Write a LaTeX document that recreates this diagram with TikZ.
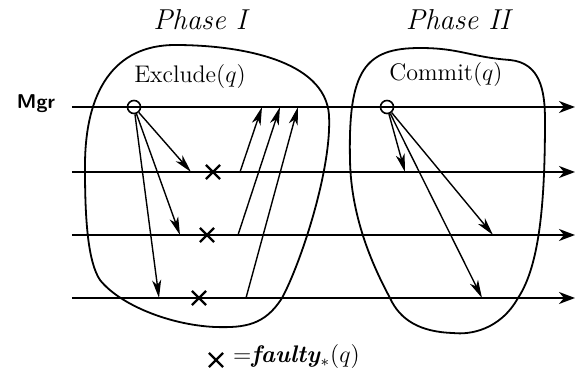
\documentclass[tikz,border=0pt]{standalone}
\usetikzlibrary{arrows.meta,shapes.misc}
\begin{document}
\begin{tikzpicture}[
    x=0.5pt, y=-0.5pt,
    >=Stealth,
    proc/.style={line width=1.1pt,-{Stealth[length=8pt,width=6pt,inset=2.5pt]}},
    msg/.style={line width=0.7pt,-{Stealth[length=9pt,width=4.5pt,inset=2.5pt]}},
    blob/.style={line width=0.9pt},
    event/.style={circle,draw,line width=0.8pt,inner sep=0pt,minimum size=6.5pt},
    fault/.style={cross out,draw,line width=1.1pt,inner sep=0pt,minimum size=6pt},
    phase/.style={font=\Large\itshape}
  ]

  \path[use as bounding box] (0,0) rectangle (575,379);

  % =====================================================
  % PHASE REGIONS
  % =====================================================
  \draw[blob] (85,170) .. controls (84,90) and (115,45) .. (175,45)
    .. controls (240,45) and (325,60) .. (329,115)
    .. controls (332,170) and (300,265) .. (282,298)
    .. controls (265,325) and (245,328) .. (215,327)
    .. controls (170,325) and (120,305) .. (100,280)
    .. controls (88,262) and (85,220) .. (85,170) -- cycle;

  \draw[blob] (350,160) .. controls (348,70) and (365,48) .. (420,48)
    .. controls (460,48) and (470,57) .. (510,60)
    .. controls (540,63) and (545,90) .. (545,120)
    .. controls (545,200) and (540,265) .. (518,298)
    .. controls (500,330) and (470,335) .. (453,333)
    .. controls (420,332) and (400,320) .. (390,298)
    .. controls (375,270) and (351,220) .. (350,160) -- cycle;

  \node[phase] (ph1) at (200,20) {Phase I};
  \node[phase] (ph2) at (458,20) {Phase II};

  \node[font=\large] (exl) at (190,77) {Exclude$(q)$};
  \node[font=\large] (cml) at (446,75) {Commit$(q)$};

  % =====================================================
  % PROCESS LINES
  % =====================================================
  \node[font=\sffamily\bfseries] (mgr) at (36,104) {Mgr};

  \foreach \r/\y in {0/107,1/172,2/235,3/298}{
    \coordinate (s\r) at (72,\y);
    \coordinate (e\r) at (575,\y);
    \draw[proc] (s\r) -- (e\r);
  }

  \node[event] (ex) at (134,107) {};
  \node[event] (cm) at (387,107) {};

  % =====================================================
  % PHASE I
  % =====================================================
  \coordinate (a1) at (191,172);
  \coordinate (a2) at (180,235);
  \coordinate (a3) at (159,298);
  \draw[msg] (ex) -- (a1);
  \draw[msg] (ex) -- (a2);
  \draw[msg] (ex) -- (a3);

  \node[fault] (f1) at (213,172) {};
  \node[fault] (f2) at (207,235) {};
  \node[fault] (f3) at (199,298) {};

  \coordinate (b1) at (240,172);
  \coordinate (b2) at (238,235);
  \coordinate (b3) at (246,298);
  \coordinate (c1) at (262,107);
  \coordinate (c2) at (280,107);
  \coordinate (c3) at (298,107);
  \draw[msg] (b1) -- (c1);
  \draw[msg] (b2) -- (c2);
  \draw[msg] (b3) -- (c3);

  % =====================================================
  % PHASE II
  % =====================================================
  \coordinate (d1) at (405,172);
  \coordinate (d2) at (493,235);
  \coordinate (d3) at (482,298);
  \draw[msg] (cm) -- (d1);
  \draw[msg] (cm) -- (d2);
  \draw[msg] (cm) -- (d3);

  % =====================================================
  % LEGEND
  % =====================================================
  \node[fault] (fx) at (216,360) {};
  \node[font=\large, anchor=west] (fl) at (226,357)
  {$=$\textit{\textbf{faulty}}$_*(q)$};

\end{tikzpicture}
\end{document}
